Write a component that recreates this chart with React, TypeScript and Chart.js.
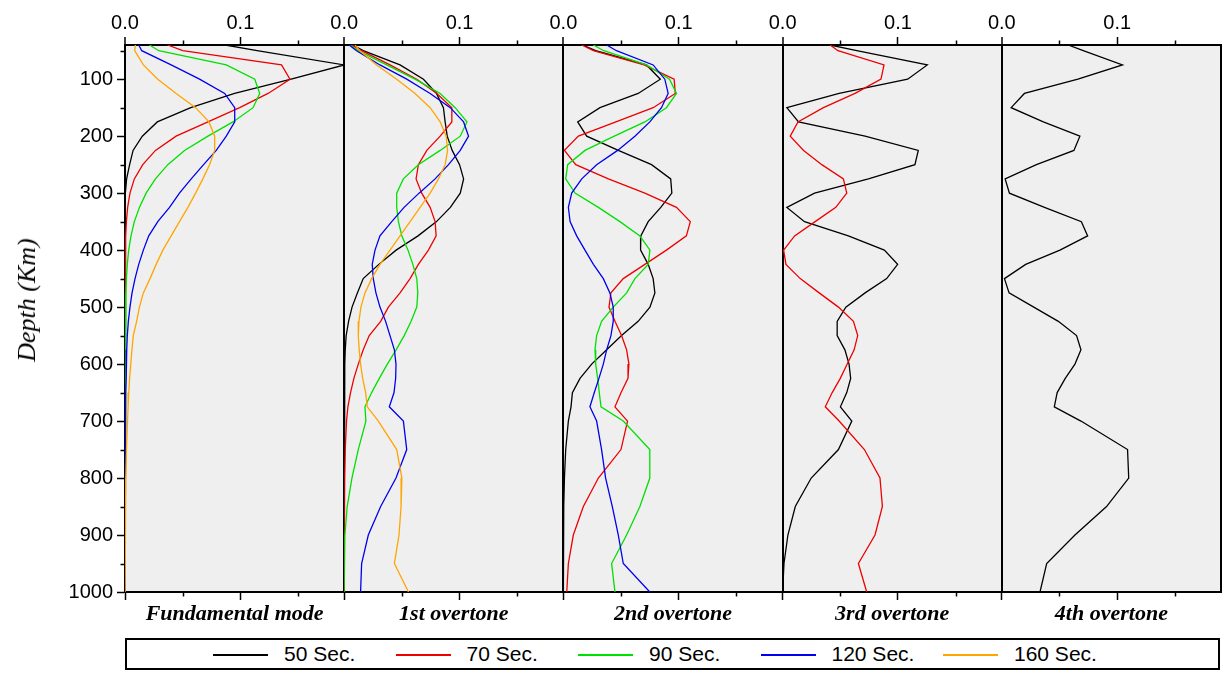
import React, { useEffect, useRef } from 'react';
import { Chart, registerables } from 'chart.js';
Chart.register(...registerables);

// Depth nodes (km)
const depths = [40, 50, 75, 100, 125, 150, 175, 200, 225, 250, 275, 300, 325, 350, 375, 400, 425, 450, 475, 500, 525, 550, 575, 600, 625, 650, 675, 700, 750, 800, 850, 900, 950, 1000];

const periods = ['50 Sec.', '70 Sec.', '90 Sec.', '120 Sec.', '160 Sec.'];
const periodColors = ['#000000', '#ee0000', '#00e000', '#0000ee', '#ffa500'];
const panelTitles = ['Fundamental mode', '1st overtone', '2nd overtone', '3rd overtone', '4th overtone'];
const xTickValues = [0, 0.05, 0.1, 0.15];
const xMajor = [0, 0.1];
const yTickValues = [50, 100, 150, 200, 250, 300, 350, 400, 450, 500, 550, 600, 650, 700, 750, 800, 850, 900, 950, 1000];

// Fundamental mode
const fund50 = [0.087, 0.1145, 0.19, 0.144, 0.095, 0.057, 0.028, 0.015, 0.007, 0.004, 0.0014, 0.0003, 0, 0, 0, 0, 0, 0, 0, 0, 0, 0, 0, 0, 0, 0, 0, 0, 0, 0, 0, 0, 0, 0];
const fund70 = [0.037, 0.05, 0.1357, 0.143, 0.124, 0.0994, 0.0719, 0.0443, 0.0264, 0.0154, 0.0081, 0.0043, 0.0023, 0.0012, 0.0006, 0.0003, 0.0001, 0, 0, 0, 0, 0, 0, 0, 0, 0, 0, 0, 0, 0, 0, 0, 0, 0];
const fund90 = [0.0212, 0.0293, 0.0878, 0.1125, 0.1168, 0.111, 0.0936, 0.0719, 0.0516, 0.0371, 0.0264, 0.0183, 0.0125, 0.0081, 0.0052, 0.0032, 0.002, 0.0012, 0.0008, 0.0004, 0.0002, 0.0001, 0, 0, 0, 0, 0, 0, 0, 0, 0, 0, 0, 0];
const fund120 = [0.0119, 0.0145, 0.04, 0.0646, 0.0864, 0.0951, 0.0951, 0.0878, 0.0791, 0.0681, 0.0574, 0.0472, 0.0386, 0.0284, 0.0206, 0.0159, 0.0119, 0.0087, 0.0061, 0.0043, 0.0029, 0.002, 0.0015, 0.0012, 0.0009, 0.0006, 0.0004, 0.0002, 0.0001, 0, 0, 0, 0, 0];
const fund160 = [0.009, 0.0084, 0.0159, 0.0284, 0.0443, 0.0612, 0.0728, 0.0777, 0.0777, 0.0733, 0.0675, 0.0612, 0.0545, 0.0472, 0.04, 0.0328, 0.027, 0.0217, 0.0159, 0.0125, 0.0101, 0.0072, 0.006, 0.005, 0.004, 0.0033, 0.0027, 0.0022, 0.0013, 0.0007, 0.0003, 0.0001, 0, 0];

// 1st overtone
const ov1_50 = [0.0072, 0.0165, 0.0484, 0.0687, 0.08, 0.086, 0.0875, 0.0893, 0.0936, 0.1, 0.1035, 0.1006, 0.092, 0.08, 0.064, 0.045, 0.03, 0.0165, 0.0115, 0.0068, 0.0038, 0.0017, 0.0009, 0.0005, 0.0002, 0, 0, 0, 0, 0, 0, 0, 0, 0];
const ov1_70 = [0.0064, 0.015, 0.0397, 0.0629, 0.0803, 0.0933, 0.0933, 0.0832, 0.0716, 0.0643, 0.0623, 0.0672, 0.0745, 0.0788, 0.0797, 0.073, 0.0643, 0.0571, 0.0484, 0.0383, 0.0316, 0.0217, 0.0165, 0.0122, 0.0084, 0.0055, 0.0032, 0.002, 0.0009, 0.0003, 0, 0, 0, 0];
const ov1_90 = [0.0049, 0.0122, 0.0368, 0.0614, 0.0832, 0.0962, 0.1064, 0.1006, 0.0832, 0.0643, 0.0513, 0.0455, 0.0455, 0.047, 0.0499, 0.0553, 0.0595, 0.0629, 0.0638, 0.0629, 0.058, 0.052, 0.045, 0.0374, 0.0304, 0.0238, 0.018, 0.0188, 0.0122, 0.0067, 0.0026, 0.0006, 0, 0];
const ov1_120 = [0.0043, 0.0107, 0.031, 0.0542, 0.0745, 0.0919, 0.1035, 0.1078, 0.1006, 0.0904, 0.0788, 0.0649, 0.0519, 0.0412, 0.031, 0.0267, 0.0243, 0.0252, 0.0275, 0.031, 0.0359, 0.0397, 0.0435, 0.0449, 0.0446, 0.0432, 0.0391, 0.0513, 0.0542, 0.0449, 0.0316, 0.0209, 0.0151, 0.0142];
const ov1_160 = [0.0093, 0.0136, 0.0281, 0.0455, 0.0614, 0.0745, 0.0832, 0.0884, 0.0896, 0.0875, 0.0817, 0.0745, 0.0658, 0.0571, 0.0484, 0.0397, 0.031, 0.0238, 0.018, 0.0145, 0.0128, 0.0122, 0.013, 0.0142, 0.016, 0.0186, 0.02, 0.0296, 0.0455, 0.05, 0.0493, 0.0475, 0.0435, 0.0557];

// 2nd overtone
const ov2_50 = [0.0165, 0.028, 0.072, 0.084, 0.0648, 0.0317, 0.0124, 0.0202, 0.0476, 0.0764, 0.093, 0.094, 0.0844, 0.0735, 0.0671, 0.0669, 0.0735, 0.0778, 0.0793, 0.075, 0.0648, 0.0504, 0.0375, 0.0245, 0.0144, 0.0078, 0.0066, 0.0043, 0.002, 0.0009, 0.0003, 0, 0, 0];
const ov2_70 = [0.0159, 0.026, 0.07, 0.096, 0.097, 0.0778, 0.0455, 0.013, 0.0009, 0.0107, 0.039, 0.0706, 0.098, 0.11, 0.1066, 0.0893, 0.0706, 0.0519, 0.0412, 0.0395, 0.0447, 0.0504, 0.0548, 0.0568, 0.056, 0.05, 0.0447, 0.0556, 0.0499, 0.0303, 0.0173, 0.0086, 0.0043, 0.0029];
const ov2_90 = [0.026, 0.035, 0.072, 0.092, 0.098, 0.0893, 0.0706, 0.0441, 0.0187, 0.0037, 0.002, 0.0101, 0.0303, 0.049, 0.0663, 0.075, 0.0735, 0.062, 0.0548, 0.0432, 0.0331, 0.0288, 0.0274, 0.028, 0.0297, 0.0311, 0.0326, 0.0519, 0.0749, 0.0749, 0.0663, 0.0548, 0.0418, 0.0447];
const ov2_120 = [0.0375, 0.046, 0.0778, 0.0879, 0.0908, 0.085, 0.0749, 0.062, 0.047, 0.0288, 0.0159, 0.0072, 0.0043, 0.0058, 0.0115, 0.0187, 0.026, 0.0346, 0.0403, 0.0432, 0.0432, 0.0412, 0.0375, 0.0346, 0.0308, 0.0268, 0.023, 0.0288, 0.0331, 0.0366, 0.0424, 0.0476, 0.0519, 0.0749];

// 3rd overtone
const ov3_50 = [0.0412, 0.0643, 0.1254, 0.1084, 0.049, 0.0037, 0.0138, 0.0715, 0.1176, 0.1147, 0.0744, 0.0277, 0.0037, 0.019, 0.057, 0.0882, 0.0997, 0.0902, 0.0715, 0.0548, 0.0473, 0.0473, 0.054, 0.0576, 0.059, 0.0556, 0.0501, 0.06, 0.0484, 0.0248, 0.011, 0.0046, 0.0012, 0];
const ov3_70 = [0.0412, 0.048, 0.0879, 0.0853, 0.0628, 0.0354, 0.0133, 0.0066, 0.0182, 0.034, 0.0527, 0.0556, 0.0461, 0.0282, 0.0104, 0.0009, 0.0029, 0.0153, 0.0317, 0.0484, 0.0614, 0.0651, 0.062, 0.056, 0.05, 0.043, 0.037, 0.049, 0.0709, 0.0844, 0.0865, 0.0801, 0.0657, 0.0729];

// 4th overtone
const ov4_50 = [0.0576, 0.0706, 0.1046, 0.066, 0.0196, 0.0081, 0.036, 0.0677, 0.0625, 0.03, 0.0029, 0.0066, 0.037, 0.069, 0.0744, 0.0504, 0.0207, 0.0023, 0.0063, 0.0277, 0.049, 0.0648, 0.0686, 0.0634, 0.055, 0.048, 0.0455, 0.0686, 0.109, 0.11, 0.0908, 0.0634, 0.0389, 0.0331];

const panelSeries: (number[] | null)[][] = [
  [fund50, fund70, fund90, fund120, fund160],
  [ov1_50, ov1_70, ov1_90, ov1_120, ov1_160],
  [ov2_50, ov2_70, ov2_90, ov2_120, null],
  [ov3_50, ov3_70, null, null, null],
  [ov4_50, null, null, null, null],
];

const X_MAX = 0.19;
const SANS = "'Liberation Sans', Arial, Helvetica, sans-serif";
const SERIF = "'Liberation Serif', 'Times New Roman', serif";

const isMajorX = (v: number) => xMajor.some((m) => Math.abs(m - v) < 1e-9);

const minorTicksPlugin = {
  id: 'minorTicksAndBg',
  beforeDraw(chart: any) {
    const { ctx, chartArea: a } = chart;
    ctx.save();
    ctx.fillStyle = '#efefef';
    ctx.fillRect(a.left, a.top, a.right - a.left, a.bottom - a.top);
    ctx.restore();
  },
  afterDraw(chart: any) {
    const ctx = chart.ctx;
    ctx.save();
    ctx.strokeStyle = '#000';
    ctx.lineWidth = 1.5;
    const len = 4.5;
    for (let p = 0; p < panelTitles.length; p++) {
      const top = chart.scales['x' + p];
      const bot = chart.scales['b' + p];
      xTickValues.filter((v) => !isMajorX(v)).forEach((v) => {
        const px = Math.round(top.getPixelForValue(v)) + 0.5;
        ctx.beginPath();
        ctx.moveTo(px, top.bottom);
        ctx.lineTo(px, top.bottom - len);
        ctx.stroke();
        const pb = Math.round(bot.getPixelForValue(v)) + 0.5;
        ctx.beginPath();
        ctx.moveTo(pb, bot.top);
        ctx.lineTo(pb, bot.top + len);
        ctx.stroke();
      });
    }
    const y = chart.scales.y;
    yTickValues.filter((v) => v % 100 !== 0).forEach((v) => {
      const py = Math.round(y.getPixelForValue(v)) + 0.5;
      ctx.beginPath();
      ctx.moveTo(y.right, py);
      ctx.lineTo(y.right - len, py);
      ctx.stroke();
    });
    ctx.restore();
  },
};

export default function App() {
  const canvasRef = useRef<HTMLCanvasElement | null>(null);

  useEffect(() => {
    if (!canvasRef.current) return;
    const datasets: any[] = [];
    panelSeries.forEach((series, p) => {
      series.forEach((vals, i) => {
        if (!vals) return;
        datasets.push({
          label: periods[i] + ' ' + panelTitles[p],
          data: vals.map((v, k) => ({ x: v, y: depths[k] })),
          xAxisID: 'x' + p,
          yAxisID: 'y',
          borderColor: periodColors[i],
          backgroundColor: periodColors[i],
          borderWidth: 1.3,
          pointRadius: 0,
          showLine: true,
          fill: false,
          tension: 0,
          order: -i,
        });
      });
    });

    const scales: any = {};
    panelTitles.forEach((title, p) => {
      scales['x' + p] = {
        type: 'linear',
        position: 'top',
        stack: 'topstack',
        stackWeight: 1,
        weight: 10 - p,
        min: 0,
        max: X_MAX,
        afterBuildTicks: (s: any) => {
          s.ticks = xTickValues.map((v) => ({ value: v }));
        },
        afterFit: (s: any) => {
          s.height = 45;
        },
        ticks: {
          autoSkip: false,
          maxRotation: 0,
          padding: 2,
          color: '#000',
          font: { family: SANS, size: 20 },
          callback: (v: number) => (isMajorX(v) ? v.toFixed(1) : ''),
        },
        grid: {
          drawOnChartArea: true,
          color: (ctx: any) => (ctx.tick && ctx.tick.value === 0 ? '#000' : 'rgba(0,0,0,0)'),
          lineWidth: (ctx: any) => (ctx.tick && ctx.tick.value === 0 ? 2 : 1),
          tickLength: 8,
          tickWidth: 1.5,
          tickColor: (ctx: any) => (ctx.tick && isMajorX(ctx.tick.value) ? '#000' : 'rgba(0,0,0,0)'),
        },
        border: { display: true, color: '#000', width: 2 },
      };
    });
    panelTitles.forEach((title, p) => {
      scales['b' + p] = {
        type: 'linear',
        position: 'bottom',
        stack: 'botstack',
        stackWeight: 1,
        weight: p,
        min: 0,
        max: X_MAX,
        afterBuildTicks: (s: any) => {
          s.ticks = xTickValues.map((v) => ({ value: v }));
        },
        afterFit: (s: any) => {
          s.height = 42;
        },
        ticks: { display: false },
        grid: {
          drawOnChartArea: false,
          tickLength: 8,
          tickWidth: 1.5,
          tickColor: (ctx: any) => (ctx.tick && isMajorX(ctx.tick.value) ? '#000' : 'rgba(0,0,0,0)'),
        },
        border: { display: true, color: '#000', width: 2 },
        title: {
          display: true,
          text: title,
          color: '#000',
          font: { family: SERIF, size: 22, weight: 'bold', style: 'italic' },
          padding: { top: 0, bottom: 6 },
        },
      };
    });
    scales.y = {
      type: 'linear',
      position: 'left',
      reverse: true,
      min: 40,
      max: 1000,
      afterBuildTicks: (s: any) => {
        s.ticks = yTickValues.map((v) => ({ value: v }));
      },
      afterFit: (s: any) => {
        s.width = 125;
      },
      ticks: {
        autoSkip: false,
        padding: 4,
        color: '#000',
        font: { family: SANS, size: 20 },
        callback: (v: number) => (v % 100 === 0 ? String(v) : ''),
      },
      grid: {
        drawOnChartArea: false,
        tickLength: 8,
        tickWidth: 1.5,
        tickColor: (ctx: any) => (ctx.tick && ctx.tick.value % 100 === 0 ? '#000' : 'rgba(0,0,0,0)'),
      },
      border: { display: true, color: '#000', width: 2 },
    };
    scales.yr = {
      type: 'linear',
      position: 'right',
      reverse: true,
      min: 40,
      max: 1000,
      ticks: { display: false },
      grid: { drawOnChartArea: false, drawTicks: false },
      border: { display: true, color: '#000', width: 2 },
      afterFit: (s: any) => {
        s.width = 0;
      },
    };

    const chart = new Chart(canvasRef.current, {
      type: 'scatter',
      data: { datasets },
      options: {
        responsive: false,
        animation: false,
        layout: { padding: { left: 0, top: 0, right: 2, bottom: 39 } },
        plugins: { legend: { display: false }, tooltip: { enabled: false }, title: { display: false } },
        scales,
      },
      plugins: [minorTicksPlugin],
    } as any);
    return () => chart.destroy();
  }, []);

  const legendLeft = 125;
  const legendTop = 638;
  const firstLine = 213;
  const itemStep = 182.5;

  return (
    <div style={{ position: 'absolute', left: 0, top: 0, width: 1223, height: 673, background: '#fff', overflow: 'hidden' }}>
      <canvas ref={canvasRef} width={1223} height={673} style={{ position: 'absolute', left: 0, top: 0, display: 'block' }} />
      <div
        style={{
          position: 'absolute',
          left: 27,
          top: 300,
          transform: 'translate(-50%, -50%) rotate(-90deg)',
          whiteSpace: 'nowrap',
          fontFamily: SERIF,
          fontStyle: 'italic',
          fontSize: 26,
          color: '#000',
          lineHeight: 1,
        }}
      >
        Depth (Km)
      </div>
      <div
        style={{
          position: 'absolute',
          left: legendLeft,
          top: legendTop,
          width: 1220 - legendLeft,
          height: 32,
          border: '2px solid #000',
          boxSizing: 'border-box',
          background: '#fff',
        }}
      >
        {periods.map((label, i) => {
          const lineX = firstLine + i * itemStep - legendLeft - 2;
          return (
            <React.Fragment key={label}>
              <div style={{ position: 'absolute', left: lineX, top: 14, width: 55, height: 1.5, background: periodColors[i] }} />
              <div
                style={{
                  position: 'absolute',
                  left: lineX + 71,
                  top: 2,
                  fontFamily: SANS,
                  fontSize: 21,
                  lineHeight: '24px',
                  color: '#000',
                  whiteSpace: 'nowrap',
                }}
              >
                {label}
              </div>
            </React.Fragment>
          );
        })}
      </div>
    </div>
  );
}
